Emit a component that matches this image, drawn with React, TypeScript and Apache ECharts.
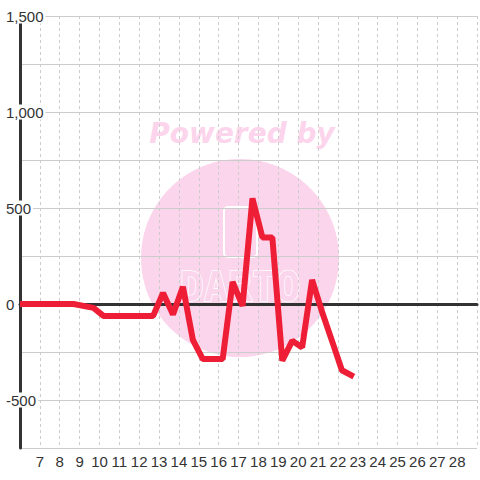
import React, { useEffect, useRef } from "react";
import * as echarts from "echarts";

const days: number[] = [6.0, 8.7, 9.7, 10.2, 10.7, 11.2, 11.7, 12.2, 12.7, 13.2, 13.7, 14.2, 14.7, 15.2, 15.7, 16.2, 16.7, 17.2, 17.7, 18.2, 18.7, 19.2, 19.7, 20.2, 20.7, 21.2, 21.8, 22.2, 22.8];
const values: number[] = [0, 0, -20, -62, -62, -62, -62, -62, -62, 57, -55, 90, -187, -287, -287, -287, 115, -10, 550, 347, 347, -295, -192, -226, 125, -40, -222, -345, -378];

const xMin = 6;
const xMax = 29;
const yMin = -750;
const yMax = 1500;
const yStep = 250;
const yLabelStep = 500;

const watermarkTitle = "Powered by";
const watermarkBrand = "DARTO";

const FONT = "'Liberation Sans', Arial, sans-serif";

export default function App() {
  const ref = useRef<HTMLDivElement>(null);
  useEffect(() => {
    if (!ref.current) return;
    const chart = echarts.init(ref.current, null, { renderer: "svg" });
    const seriesData = days.map((d, i) => [d, values[i]]);
    chart.setOption({
      animation: false,
      backgroundColor: "#ffffff",
      grid: { left: 20, right: 0, top: 16, bottom: 32, containLabel: false },
      graphic: {
        elements: [
          {
            type: "circle",
            z: -10,
            shape: { cx: 240, cy: 258, r: 99 },
            style: { fill: "#fbd5ec" },
            silent: true,
          },
          {
            type: "text",
            z: -10,
            x: 242,
            y: 133,
            style: {
              text: watermarkTitle,
              font: "italic bold 28px 'DejaVu Sans', sans-serif",
              fill: "#fcd5ec",
              align: "center",
              verticalAlign: "middle",
            },
            silent: true,
          },
          {
            type: "rect",
            z: -9,
            shape: { x: 224, y: 207, width: 33, height: 50, r: 4 },
            style: { fill: "none", stroke: "#ffffff", lineWidth: 2 },
            silent: true,
          },
          {
            type: "text",
            z: -9,
            x: 240,
            y: 287,
            style: {
              text: watermarkBrand,
              font: "bold 40px 'DejaVu Sans Mono', monospace",
              fill: "#fbd5ec",
              stroke: "#ffffff",
              lineWidth: 1.5,
              align: "center",
              verticalAlign: "middle",
            },
            silent: true,
          },
        ],
      },
      xAxis: [
        {
          type: "value",
          min: xMin,
          max: xMax,
          interval: 1,
          position: "bottom",
          axisLine: { show: false, onZero: false },
          axisTick: { show: false },
          axisLabel: {
            margin: 6,
            color: "#333",
            fontSize: 15,
            fontFamily: FONT,
            formatter: (v: number) => (v === xMin || v === xMax ? "" : String(v)),
          },
          splitLine: { show: true, lineStyle: { color: "#cccccc", width: 1, type: [3, 3] } },
        },
        {
          type: "value",
          min: xMin,
          max: xMax,
          interval: 1,
          position: "top",
          axisLine: { show: true, onZero: true, lineStyle: { color: "#333333", width: 3 } },
          axisTick: { show: false },
          axisLabel: { show: false },
          splitLine: { show: false },
        },
      ],
      yAxis: {
        type: "value",
        min: yMin,
        max: yMax,
        interval: yStep,
        axisLine: { show: true, onZero: false, lineStyle: { color: "#333333", width: 3 } },
        axisTick: { show: false },
        axisLabel: {
          align: "left",
          margin: 16,
          color: "#333",
          fontSize: 15,
          fontFamily: FONT,
          backgroundColor: "#ffffff",
          padding: [0, 2, 0, 2],
          formatter: (v: number) =>
            v % yLabelStep === 0 ? v.toLocaleString("en-US") : "",
        },
        splitLine: { show: true, lineStyle: { color: "#cccccc", width: 1 } },
      },
      series: [
        {
          type: "line",
          xAxisIndex: 0,
          data: seriesData,
          showSymbol: false,
          symbol: "none",
          z: 5,
          lineStyle: { color: "#ee1e36", width: 6, join: "bevel", cap: "butt" },
        },
      ],
    });
    return () => chart.dispose();
  }, []);
  return (
    <div
      ref={ref}
      style={{ position: "absolute", left: 0, top: 0, width: 480, height: 480 }}
    />
  );
}
